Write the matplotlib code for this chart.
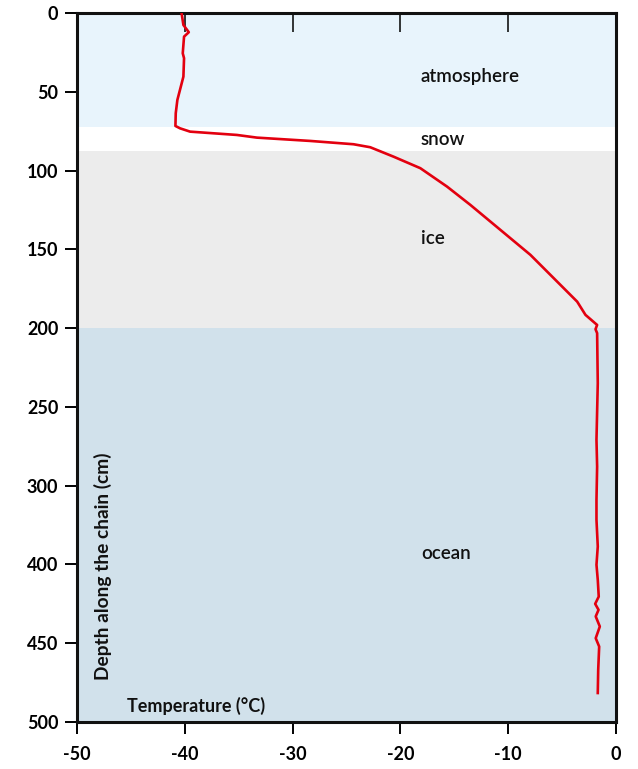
import matplotlib.pyplot as plt

# depth in axis position units (the axis labels skip 350)
depth = [0, 7.6, 12.2, 15.0, 25.6, 28.7, 40.4, 55.2, 63.6, 71.7, 73.2, 75.3, 77.4, 79.1,
         81.2, 83.3, 85.2, 91.2, 98.5, 110.2, 121.8, 153.5, 183.2, 191.6, 198.0, 200.7,
         203.2, 235.0, 270.9, 287.9, 309.0, 321.7, 338.6, 350.2, 359.8, 370.4, 375.0,
         378.8, 383.0, 389.4, 396.8, 402.1, 416.9, 431.6]
temp = [-40.3, -40.13, -39.63, -40.07, -40.19, -40.07, -40.13, -40.69, -40.84, -40.87,
        -40.44, -39.51, -35.17, -33.31, -28.37, -24.35, -22.8, -20.63, -18.15, -15.67,
        -13.51, -7.94, -3.6, -2.83, -1.75, -1.9, -1.75, -1.69, -1.81, -1.75, -1.81,
        -1.81, -1.69, -1.81, -1.69, -1.6, -1.93, -1.62, -1.88, -1.5, -1.88, -1.56,
        -1.65, -1.69]

layers = ["atmosphere", "snow", "ice", "ocean"]
layer_top = [0, 72.3, 87.6, 200]
layer_bottom = [72.3, 87.6, 200, 450]
layer_colors = ["#e8f4fc", "#ffffff", "#ececec", "#d1e1eb"]
label_depth = [40, 80, 143, 343]

ytick_pos = [0, 50, 100, 150, 200, 250, 300, 350, 400, 450]
ytick_labels = ["0", "50", "100", "150", "200", "250", "300", "400", "450", "500"]
xticks = [-50, -40, -30, -20, -10, 0]

plt.rcParams['font.family'] = ['Lato', 'DejaVu Sans']

fig = plt.figure(figsize=(6.38, 7.69), dpi=100)
ax = fig.add_axes([0.1207, 0.0611, 0.8448, 0.922])

for name, top, bot, col, ld in zip(layers, layer_top, layer_bottom, layer_colors, label_depth):
    ax.axhspan(top, bot, color=col, lw=0, zorder=0)
    ax.text(-18.1, ld, name, fontsize=13.5, fontweight=600, ha='left', va='center', color='#111111')

ax.plot(temp, depth, color='#e3000f', lw=1.9, zorder=3)

ax.set_xlim(-50, 0)
ax.set_ylim(450, 0)
ax.set_xticks(xticks)
ax.set_xticklabels([str(t) for t in xticks])
ax.set_yticks(ytick_pos)
ax.set_yticklabels(ytick_labels)
ax.tick_params(axis='both', direction='out', length=8.5, width=1.4, labelsize=13, pad=5)
for lab in ax.get_xticklabels() + ax.get_yticklabels():
    lab.set_fontweight('bold')
ax.tick_params(axis='x', pad=9)

for s in ax.spines.values():
    s.set_linewidth(2.2)
    s.set_color('#111111')

top = ax.secondary_xaxis('top')
top.set_xticks([-40, -30, -20, -10])
top.tick_params(direction='in', length=14, width=1.1, labeltop=False)
top.spines['top'].set_visible(False)

ax.text(-47.6, 351, "Depth along the chain (cm)", rotation=90, fontsize=13.8,
        fontweight='bold', ha='center', va='center', color='#111111')
ax.text(-45.4, 439.5, "Temperature (°C)", fontsize=13, fontweight='bold',
        ha='left', va='center', color='#111111')

fig.savefig("out.png", dpi=100)
